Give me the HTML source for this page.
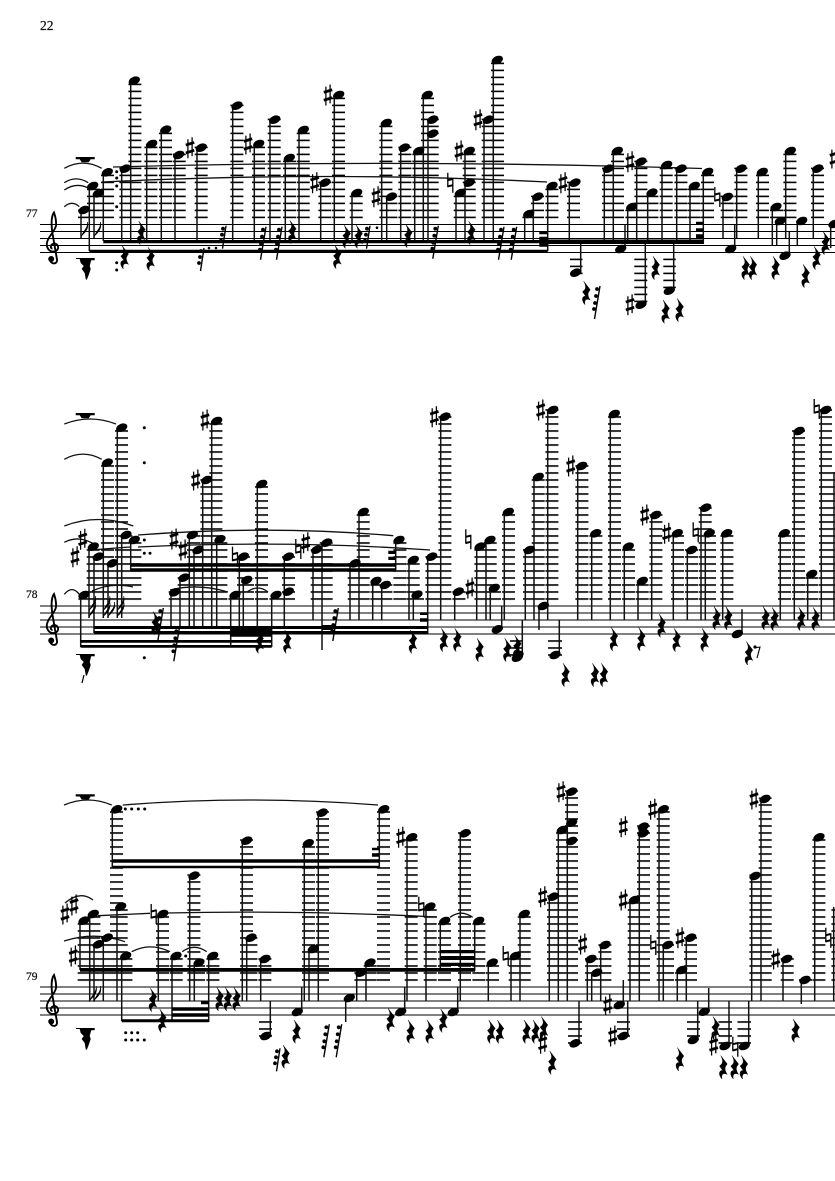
<!DOCTYPE html>
<html><head><meta charset="utf-8"><style>html,body{margin:0;padding:0;background:#fff}svg{display:block}text{font-family:"Liberation Serif",serif;fill:#111;stroke:#111;stroke-width:.25}</style></head><body>
<svg width="835" height="1181" viewBox="0 0 835 1181" xmlns="http://www.w3.org/2000/svg">
<defs>
<pattern id="A" patternUnits="userSpaceOnUse" x="0" y="223.6" width="835" height="7"><rect width="835" height="1.6"/></pattern>
<pattern id="B" patternUnits="userSpaceOnUse" x="0" y="605.2" width="835" height="7"><rect width="835" height="1.6"/></pattern>
<pattern id="C" patternUnits="userSpaceOnUse" x="0" y="986.2" width="835" height="7"><rect width="835" height="1.6"/></pattern>
<ellipse id="n" rx="5.9" ry="3.9" transform="rotate(-24)"/>
<path id="r" transform="scale(1.3)" stroke="#000" stroke-width=".3" d="M-1.5-9L3.5-2.5C1.5 0 1 1.5 3.5 5.5C1 4-1.5 5-.5 9C-3.5 6-3 2 0 2.5L-2.5-1C.5-3 .5-5-1.5-9z"/>
<g id="s" transform="scale(1.05)"><path d="M-2-8V10M2-10V8" stroke="#000" stroke-width="1.2"/><path d="M-4-2.5L4-5M-4 5L4 2.5" stroke="#000" stroke-width="2.7"/></g>
<g id="h" fill="none" stroke="#000"><path d="M-2.5-10V4.5M2.5-4.5V10" stroke-width="1.3"/><path d="M-2.5-2.5L2.5-3.7M-2.5 3.7L2.5 2.5" stroke-width="2"/></g>
<g id="t"><path d="M0 0L-5.5 33" stroke="#000" stroke-width="1.4"/><circle cx="-3" cy="3" r="1.9"/><circle cx="-4" cy="10" r="1.9"/><circle cx="-5" cy="17" r="1.9"/><circle cx="-6" cy="23" r="1.9"/></g>
<g id="u"><path d="M0 0L-3.5 23" stroke="#000" stroke-width="1.4"/><circle cx="-3" cy="3" r="1.9"/><circle cx="-4" cy="9" r="1.9"/><circle cx="-5" cy="15" r="1.9"/></g>
<path id="f" stroke="#000" stroke-width=".5" d="M0 0C1-7 7-9 6.5-16C8-10 5-6 .5-2z"/>
<path id="w" d="M0 0h19v2.2h-4l-2 3h-7l-2-3h-4z"/>
<path id="v" d="M0 0h19v2.2h-3.5L14 8l1 3-2 6-2 5-1-1-1-6-3-4 2-3-3-3-1-4h-3.5z"/>
<g id="c" fill="none" stroke="#000"><path d="M-1.5 3C-4 3-4-1 0-2C5-2 6 5 0 6C-5 6.5-8 2-7-3C-6-9 1-14 2-20C2.5-26 1-30 0-33C-3-29-3-22-1.5-12L3 14C3.5 19-2 19-4 15" stroke-width="1.9"/><circle cx="-2.8" cy="13.5" r="2.5" fill="#000"/></g>
</defs>
<rect width="835" height="1181" fill="#fff"/>
<text x="40" y="30" font-size="13.5">22</text>
<text x="26" y="217" font-size="11.5">77</text>
<text x="26" y="598" font-size="11.5">78</text>
<text x="26" y="980" font-size="11.5">79</text>
<path stroke="#000" stroke-width="1" d="M40 224.5H835M40 231.5H835M40 238.5H835M40 245.5H835M40 252.5H835"/>
<path stroke="#000" stroke-width="1" d="M40 606H835M40 613H835M40 620H835M40 627H835M40 634H835"/>
<path stroke="#000" stroke-width="1" d="M40 987H835M40 994H835M40 1001H835M40 1008H835M40 1015H835"/>
<use href="#c" x="54" y="245.5"/><use href="#c" x="54" y="627"/><use href="#c" x="54" y="1008"/>
<path fill="url(#A)" d="M78 208h12.5V220h-12.5zM87 184.5h13V220h-13zM91.7 191.8h13V220h-13zM101 170.8h13V220h-13zM119.4 167.2h13V220h-13zM128.4 79.2h13V220h-13zM144.4 142.5h13V220h-13zM159 128.2h13V220h-13zM172.7 153.5h13V220h-13zM194.7 146.2h13V220h-13zM230.4 104.2h13V220h-13zM252 142.5h13V220h-13zM267.7 118.2h13V220h-13zM283 156.5h13V220h-13zM296.7 128.5h13V220h-13zM318.4 181.2h13V220h-13zM332 93.5h13V220h-13zM349.7 191.5h13V220h-13zM379.4 121.5h13V220h-13zM384.4 195.2h13V220h-13zM398.4 146.2h13V220h-13zM412.4 149.5h13V220h-13zM421 93.5h13V220h-13zM425.7 118.2h13V220h-13zM453.7 191.5h13V220h-13zM462.7 149.5h13V220h-13zM481.7 118.2h13V220h-13zM491 58.5h13V220h-13zM522.4 212.5h13V220h-13zM531 195.2h13V220h-13zM545.4 184.5h13V220h-13zM567 181.2h13V220h-13zM602 167.2h13V220h-13zM611 149.5h13V220h-13zM625.4 205.5h13V220h-13zM634.4 160.2h13V220h-13zM645.4 191.2h13V220h-13zM659.7 163.5h13V220h-13zM674.4 167.2h13V220h-13zM687.7 184.5h13V220h-13zM701 170.5h13V220h-13zM720.7 195.5h13V220h-13zM734.4 167.2h13V220h-13zM756 170.5h13V220h-13zM770 205.5h13V220h-13zM783.4 149.5h13V220h-13zM811 167.2h13V220h-13zM570 257h12.5V275h-12.5zM634.3 257h13V304h-13zM663.3 257h12.5V290h-12.5z"/>
<path fill="url(#B)" d="M78.4 593.5h13V602h-13zM86.7 545.2h13V602h-13zM91.7 555.2h13V602h-13zM101 461.2h13V602h-13zM105.7 561.8h13V602h-13zM115 426.2h13V602h-13zM119.4 533.5h13V602h-13zM128.4 538.5h13V602h-13zM168.7 590.8h13V602h-13zM177.7 576.2h13V602h-13zM187 533.5h13V602h-13zM191.7 548.5h13V602h-13zM200.4 478.5h13V602h-13zM209.4 419.5h13V602h-13zM255 482.5h13V602h-13zM214.4 537.8h13V602h-13zM228.4 593.5h13V602h-13zM237 555.2h13V602h-13zM241 578.5h13V602h-13zM269.4 593.5h13V602h-13zM282 555.2h13V602h-13zM310.7 548.2h13V602h-13zM319.7 541.2h13V602h-13zM347.7 561.8h13V602h-13zM356.7 510.5h13V602h-13zM370.4 579.5h13V602h-13zM379.4 583.5h13V602h-13zM393.4 538.5h13V602h-13zM406.7 558.5h13V602h-13zM411 593.2h13V602h-13zM425.4 555.2h13V602h-13zM438.4 415.2h13V602h-13zM452.4 590.2h13V602h-13zM474.4 545.2h13V602h-13zM483.7 538.5h13V602h-13zM488 586.5h13V602h-13zM502 510.5h13V602h-13zM523 548.5h13V602h-13zM531.7 475.5h13V602h-13zM545.4 408.5h13V602h-13zM575.4 464.5h13V602h-13zM589.4 531.8h13V602h-13zM608 412.5h13V602h-13zM622 545.2h13V602h-13zM635.7 579.5h13V602h-13zM649.4 513.5h13V602h-13zM671 531.8h13V602h-13zM685 548.5h13V602h-13zM698.7 506.2h13V602h-13zM703 531.8h13V602h-13zM720.4 531.8h13V602h-13zM778 531.8h13V602h-13zM792 429.5h13V602h-13zM805.4 572.5h13V602h-13zM819 408.5h13V602h-13zM832 470h13V602h-13zM510 639h13V657h-13zM548 639h14V657h-14z"/>
<path fill="url(#C)" d="M77.7 919.2h13V983h-13zM87.4 912.5h13V983h-13zM91.7 942.8h13V983h-13zM101 936.2h13V983h-13zM110 807.8h13V983h-13zM114.7 905.2h13V983h-13zM119.4 954.5h13V983h-13zM156 912.5h13V983h-13zM169.7 954.5h13V983h-13zM187.4 874.2h13V983h-13zM192 961.2h13V983h-13zM206.4 954.5h13V983h-13zM240 839.2h13V983h-13zM244.4 936.2h13V983h-13zM258.4 957.5h13V983h-13zM302 841.8h13V983h-13zM306.7 947.5h13V983h-13zM316 811.2h13V983h-13zM354.4 971.2h13V983h-13zM363.7 961.2h13V983h-13zM377 807.8h13V983h-13zM404.7 835.8h13V983h-13zM423.7 905.2h13V983h-13zM438 919.5h13V983h-13zM458 831.8h13V983h-13zM472.4 919.5h13V983h-13zM486 961.2h13V983h-13zM508.7 954.5h13V983h-13zM517.7 912.5h13V983h-13zM547 895.2h13V983h-13zM556 828.5h13V983h-13zM565 790.2h13V983h-13zM585 957.5h13V983h-13zM589.4 971.2h13V983h-13zM598.4 943.5h13V983h-13zM627.7 898.5h13V983h-13zM637 825.2h13V983h-13zM656.7 807.8h13V983h-13zM661 943.5h13V983h-13zM675 968.5h13V983h-13zM684 936.2h13V983h-13zM749.4 874.5h13V983h-13zM758.7 797.5h13V983h-13zM780.7 957.5h13V983h-13zM799 978.5h13V983h-13zM812.4 835.8h13V983h-13zM831.4 905h13V983h-13zM259 1020h13V1038h-13zM568 1020h14V1045h-14zM617 1020h13V1038h-13zM687 1020h13V1038h-13zM718.5 1020h13.5V1045h-13.5zM737.5 1020h13.5V1045h-13.5z"/>
<path fill="none" stroke="#111" stroke-width="1.5" d="M81 210V238M89.3 186V251M94 193V238M103.3 172V241M121.7 169V241M130.7 81V241M146.7 144V241M161.3 130V241M175 155V241M197 148V241M232.7 106V241M254.3 144V241M270 120V241M285.3 158V241M299 130V241M320.7 183V241M334.3 95V241M352 193V241M381.7 123V241M386.7 197V241M400.7 148V241M414.7 151V241M423.3 95V241M428 120V241M456 193V241M465 151V241M484 120V241M493.3 60V241M524.7 214V241M533.3 197V241M547.7 186V251M569.3 183V241M580.7 273V241M604.3 169V241M613.3 151V241M625 249V224M627.7 207V241M636.7 162V241M645.3 305V241M647.7 193V241M662 165V241M673.7 291V241M676.7 169V241M690 186V241M703.3 172V244M723 197V238M734.7 249V225M736.7 169V238M758.3 172V238M772.3 207V245M776.7 221V245M785.7 151V238M789.3 256V232M797.3 221V245M813.3 169V238M830.7 224V248"/>
<path fill="none" stroke="#111" stroke-width="1.5" d="M80.7 595V647M89 547V618M94 557V633M103.3 463V618M108 563V618M117.3 428V618M121.7 535V618M130.7 540V571M171 592V627M180 578V627M189.3 535V627M194 550V627M202.7 480V627M211.7 421V627M216.7 539V627M230.7 595V647M239.3 557V627M243.3 580V627M257.3 484V627M271.7 595V647M284.3 557V627M313 550V620M322 543V650M350 563V620M359 512V620M372.7 581V620M381.7 585V620M395.7 540V571M409 560V620M413.3 595V620M427.7 557V634M440.7 417V620M454.7 592V620M476.7 547V620M486 540V620M490.3 588V620M501.7 629V605.7M504.3 512V620M522.3 657V620M525.3 550V620M534 477V620M539 606V630M547.7 410V620M559.3 655V620M577.7 466V620M591.7 533V620M610.3 414V620M624.3 547V620M638 581V620M651.7 515V620M673.3 533V620M687.3 550V620M701 508V620M705.3 533V620M722.7 533V620M742 634V609.3M780.3 533V620M794.3 431V620M807.7 574V620M821.3 410V620M834 472V620"/>
<path fill="none" stroke="#111" stroke-width="1.5" d="M80 921V970M89.7 914V1001M94 944V1001M103.3 938V1001M112.3 809V868M117 907V1001M121.7 956V1021M158.3 914V1001M172 956V1021M189.7 876V1001M194.3 963V1001M208.7 956V1022M242.3 841V1001M246.7 938V1001M260.7 959V1001M270.3 1036V1001M301.7 1012V987M304.3 843V1001M309 949V1001M318.3 813V1001M345.7 998V1022M356.7 973V1001M366 963V1001M379.3 809V868M404.7 1012V987M407 837V1001M426 907V1001M440.3 921V971M457.7 1012V987M460.3 833V1001M474.7 921V971M488.3 963V1001M511 956V1001M520 914V1001M549.3 897V1001M558.3 830V1001M567.3 792V1001M579 1043V1001M587.3 959V1001M591.7 973V1001M600.7 945V1001M623.3 1005V980M627.7 1036V1001M630 900V1001M639.3 827V1001M659 809V1001M663.3 945V1001M677.3 970V1001M686.3 938V1001M697.7 1040V1001M708.7 1012V988M729 1046V1001M748.7 1046V1001M751.7 876V1001M761 799V1001M783 959V1001M801.3 980V1004M814.7 837V1001M833.7 907V1001"/>
<path d="M89.3 249.7H547.7V252.5H89.3zM103.3 240H547.7V243.3H103.3zM547.7 239.5H703.3V244H547.7zM696 221.7h7.3v2.6h-7.3zM696 228.3h7.3v2.7h-7.3zM696 234.3h7.3v4h-7.3zM539.3 232h8.4v2.3h-8.4zM539.3 236.7h8.4v10h-8.4z"/>
<path d="M80.7 640H271.7V642.7H80.7zM80.7 645H271.7V647.7H80.7zM94 626H427.7V629H94zM94 631H427.7V634H94zM230 626h41.7v10.7H230zM130.7 563.3H395.7V566.7H130.7zM130.7 568.3H395.7V571.7H130.7zM388.3 550.7h7.4v3.3h-7.4zM388.3 556.7h7.4v3.3h-7.4zM420 612.3h7.7v2.7H420zM420 618.3h7.7v3.4H420zM322 625h11v5h-11z"/>
<path d="M80 968H475V971.7H80zM112.3 859.3H379.3V862.7H112.3zM112.3 865.7H379.3V868.3H112.3zM372 847.7h7.3v2.6H372zM372 853.3h7.3v3.4H372zM121.7 1019.3H208.7V1022.3H121.7zM172 1007.3h36.7v3.4H172zM172 1013.3h36.7v3.4H172zM201 1001h7.7v3.3H201zM440.3 950H475V953.3H440.3zM440.3 956H475V960H440.3zM440.3 962.7H475V966H440.3z"/>
<path fill="none" stroke="#111" stroke-width="1.3" d="M64.3 168.3Q83 158 101.7 168.3M64.3 182.7Q76 175 88.3 182.7M64.3 190Q76 182 88.3 188M64.3 206.7Q72 200 79.3 206.7M113 167Q400 159 702 168.5M102 182Q330 171 547 182M64.3 424Q90 414 116 424M64.3 459.3Q83 449 101.7 459.3M64.3 526Q98 513 133.3 526M64.3 542.3Q80 534 97 546M64.3 594.3Q72 585 79.3 594.3M138 535Q270 525 393.3 535.7M90 550L130 547M138 547Q290 540 430 550M92 591Q112 582 133 587M170 590Q198 583 228 592M247 592Q258 584 268 592M65 903Q80 890 93 900M64 941Q95 931 125 941.7M131.7 951.7Q150 942 170 951.7M182.3 951.7Q194 943 206.7 951.7M98 915.7L150 913.3M166 913Q300 910 437 917M450 917.3Q461 909 472.7 917.3M64 805Q88 795 111.7 805M122.7 805Q250 795 378 805"/>
<use href="#w" x="75.7" y="157"/><use href="#v" x="75.7" y="258"/>
<use href="#w" x="75.7" y="413"/><use href="#v" x="75.7" y="654"/><path d="M84 675L82 683" stroke="#000" stroke-width="1.2"/>
<use href="#w" x="75.7" y="794.3"/><use href="#v" x="75.7" y="1028"/>
<use href="#n" x="84" y="210"/><use href="#n" x="92.7" y="186"/><use href="#n" x="98.3" y="193.3"/><use href="#n" x="107.3" y="172.3"/><use href="#n" x="125.3" y="168.7"/><use href="#n" x="134.3" y="80.7"/><use href="#n" x="151.7" y="144"/><use href="#n" x="165.7" y="129.7"/><use href="#n" x="178.7" y="155"/><use href="#n" x="201.3" y="147.7"/><use href="#n" x="237" y="105.7"/><use href="#n" x="258.7" y="144"/><use href="#n" x="274.7" y="119.7"/><use href="#n" x="289.3" y="158"/><use href="#n" x="303.3" y="130"/><use href="#n" x="325" y="182.7"/><use href="#n" x="338.7" y="95"/><use href="#n" x="356.7" y="193"/><use href="#n" x="386.3" y="123"/><use href="#n" x="391.3" y="196.7"/><use href="#n" x="404.3" y="147.7"/><use href="#n" x="418.7" y="151"/><use href="#n" x="427.3" y="95"/><use href="#n" x="432.7" y="119.7"/><use href="#n" x="432.7" y="133.7"/><use href="#n" x="460.3" y="193"/><use href="#n" x="469.3" y="182.7"/><use href="#n" x="469.3" y="151"/><use href="#n" x="488.3" y="119.7"/><use href="#n" x="497.3" y="60"/><use href="#n" x="528.7" y="214"/><use href="#n" x="537.7" y="196.7"/><use href="#n" x="552" y="186"/><use href="#n" x="575" y="182.7"/><use href="#n" x="575.7" y="272.7"/><use href="#n" x="608.3" y="168.7"/><use href="#n" x="617.3" y="151"/><use href="#n" x="620.7" y="249"/><use href="#n" x="631.7" y="207"/><use href="#n" x="641" y="161.7"/><use href="#n" x="652" y="192.7"/><use href="#n" x="666.7" y="165"/><use href="#n" x="681" y="168.7"/><use href="#n" x="694.3" y="186"/><use href="#n" x="707.7" y="172"/><use href="#n" x="641" y="304.7"/><use href="#n" x="669.3" y="290.7"/><use href="#n" x="727.3" y="197"/><use href="#n" x="730.7" y="249"/><use href="#n" x="741" y="168.7"/><use href="#n" x="762.3" y="172"/><use href="#n" x="776" y="207"/><use href="#n" x="780.3" y="221"/><use href="#n" x="790.3" y="151"/><use href="#n" x="785" y="255.7"/><use href="#n" x="801.7" y="221"/><use href="#n" x="817.7" y="168.7"/><use href="#n" x="834" y="224"/>
<use href="#s" x="190" y="147.7"/><use href="#s" x="248" y="144"/><use href="#s" x="314.7" y="182.7"/><use href="#s" x="328" y="95"/><use href="#s" x="376" y="196.7"/><use href="#s" x="459" y="151"/><use href="#h" x="450.3" y="182.7"/><use href="#s" x="478" y="119.7"/><use href="#s" x="563" y="182.7"/><use href="#s" x="630" y="161.7"/><use href="#s" x="630" y="304.7"/><use href="#h" x="717.3" y="197"/><use href="#s" x="834" y="158"/>
<use href="#f" x="81" y="238"/><use href="#f" x="94" y="238"/><use href="#f" x="89" y="618"/><use href="#f" x="89" y="612"/><use href="#f" x="103.3" y="618"/><use href="#f" x="108" y="618"/><use href="#f" x="103.3" y="612"/><use href="#f" x="117.3" y="618"/><use href="#f" x="117.3" y="612"/><use href="#f" x="89.7" y="1002"/><use href="#f" x="94" y="1002"/>
<use href="#r" x="140.7" y="232.7"/><use href="#r" x="124" y="257.3"/><use href="#r" x="150" y="259"/><use href="#r" x="291.7" y="232"/><use href="#r" x="346" y="236.7"/><use href="#r" x="358" y="236.7"/><use href="#r" x="336.7" y="257"/><use href="#r" x="407.7" y="236"/><use href="#r" x="470.7" y="233"/><use href="#r" x="585.7" y="293"/><use href="#r" x="655" y="268"/><use href="#r" x="665" y="311.7"/><use href="#r" x="679" y="310"/><use href="#r" x="745" y="268"/><use href="#r" x="752.3" y="268"/><use href="#r" x="775" y="268"/><use href="#r" x="805" y="276"/><use href="#r" x="816" y="258"/><use href="#r" x="825" y="243"/>
<use href="#u" x="226" y="225.7"/><use href="#u" x="204" y="248"/><use href="#t" x="266" y="226.7"/><use href="#t" x="282" y="226.7"/><use href="#u" x="370" y="225.7"/><use href="#t" x="438.3" y="225.7"/><use href="#t" x="504" y="226.7"/><use href="#t" x="516.7" y="226.7"/><use href="#t" x="600" y="286"/>
<g><circle cx="116.7" cy="171.7" r="1.5"/><circle cx="116.7" cy="178" r="1.5"/><circle cx="116.7" cy="186" r="1.5"/><circle cx="116.7" cy="206.7" r="1.5"/><circle cx="116.7" cy="262.7" r="1.5"/><circle cx="116.7" cy="270" r="1.5"/><circle cx="209" cy="248" r="1.3"/><circle cx="216" cy="248" r="1.3"/><circle cx="377" cy="227.7" r="1.3"/></g>
<use href="#n" x="84" y="595"/><use href="#n" x="93.3" y="546.7"/><use href="#n" x="98.3" y="556.7"/><use href="#n" x="107.3" y="462.7"/><use href="#n" x="112.3" y="563.3"/><use href="#n" x="121.7" y="427.7"/><use href="#n" x="126" y="535"/><use href="#n" x="134.3" y="540"/><use href="#n" x="174.7" y="592.3"/><use href="#n" x="184" y="577.7"/><use href="#n" x="192.3" y="535"/><use href="#n" x="198" y="550"/><use href="#n" x="206.7" y="480"/><use href="#n" x="216.7" y="421"/><use href="#n" x="220" y="539.3"/><use href="#n" x="235" y="595"/><use href="#n" x="243.3" y="556.7"/><use href="#n" x="246.7" y="580"/><use href="#n" x="261.7" y="484"/><use href="#n" x="276" y="595"/><use href="#n" x="288.3" y="556.7"/><use href="#n" x="288.3" y="591.7"/><use href="#n" x="316.7" y="549.7"/><use href="#n" x="326.7" y="542.7"/><use href="#n" x="355" y="563.3"/><use href="#n" x="363.3" y="512"/><use href="#n" x="376" y="581"/><use href="#n" x="385.3" y="585"/><use href="#n" x="399" y="540"/><use href="#n" x="413.3" y="560"/><use href="#n" x="417" y="594.7"/><use href="#n" x="431.7" y="556.7"/><use href="#n" x="445" y="416.7"/><use href="#n" x="458.3" y="591.7"/><use href="#n" x="480" y="546.7"/><use href="#n" x="490" y="540"/><use href="#n" x="494.3" y="588"/><use href="#n" x="497.3" y="629.3"/><use href="#n" x="508.3" y="512"/><use href="#n" x="517.3" y="657.7"/><use href="#n" x="518" y="655"/><use href="#n" x="529.3" y="550"/><use href="#n" x="538.3" y="477"/><use href="#n" x="543.3" y="606"/><use href="#n" x="552.7" y="410"/><use href="#n" x="555" y="655"/><use href="#n" x="581.7" y="466"/><use href="#n" x="595.7" y="533.3"/><use href="#n" x="614.3" y="414"/><use href="#n" x="628.3" y="546.7"/><use href="#n" x="642.3" y="581"/><use href="#n" x="655.7" y="515"/><use href="#n" x="677.3" y="533.3"/><use href="#n" x="691.7" y="550"/><use href="#n" x="705.7" y="507.7"/><use href="#n" x="709.3" y="533.3"/><use href="#n" x="726.7" y="533.3"/><use href="#n" x="737.3" y="634"/><use href="#n" x="784.3" y="533.3"/><use href="#n" x="799" y="431"/><use href="#n" x="811.7" y="574"/><use href="#n" x="825.7" y="410"/>
<use href="#s" x="82.7" y="539.3"/><use href="#s" x="75" y="556.7"/><use href="#s" x="195.7" y="480"/><use href="#s" x="205" y="420"/><use href="#s" x="174" y="539"/><use href="#s" x="183" y="550"/><use href="#h" x="235" y="556.7"/><use href="#h" x="298.3" y="549"/><use href="#s" x="305.7" y="542.7"/><use href="#s" x="434.3" y="416.7"/><use href="#s" x="470" y="588"/><use href="#h" x="468.3" y="539.3"/><use href="#s" x="540.7" y="410"/><use href="#s" x="570.7" y="466"/><use href="#s" x="644.7" y="515"/><use href="#s" x="666.7" y="533.3"/><use href="#h" x="695.7" y="532.3"/><use href="#h" x="816.7" y="409"/>
<use href="#r" x="155" y="623.3"/><use href="#r" x="259" y="641.7"/><use href="#r" x="286.7" y="641.7"/><use href="#r" x="412.3" y="641.7"/><use href="#r" x="443.3" y="640"/><use href="#r" x="456.7" y="640"/><use href="#r" x="479" y="650"/><use href="#r" x="506.7" y="650"/><use href="#r" x="516.7" y="647"/><use href="#r" x="565" y="675"/><use href="#r" x="594.3" y="675"/><use href="#r" x="603.3" y="675"/><use href="#r" x="613.3" y="639.3"/><use href="#r" x="640.7" y="639.3"/><use href="#r" x="661" y="625.7"/><use href="#r" x="676" y="640"/><use href="#r" x="704" y="640"/><use href="#r" x="716" y="618.3"/><use href="#r" x="727.7" y="618.3"/><use href="#r" x="748.3" y="653.3"/><use href="#r" x="765" y="618.3"/><use href="#r" x="774" y="619"/><use href="#r" x="800.7" y="619"/><use href="#r" x="815" y="619"/>
<path d="M754 648L760 647L757 658" fill="none" stroke="#000" stroke-width="1.1"/><circle cx="755" cy="647" r="1.6"/>
<use href="#t" x="163.3" y="608"/><use href="#t" x="179.3" y="628.3"/><use href="#t" x="338.3" y="608"/>
<g><circle cx="144.3" cy="427.7" r="1.5"/><circle cx="144.3" cy="462.7" r="1.5"/><circle cx="144.3" cy="540" r="1.5"/><circle cx="144.3" cy="553.3" r="1.5"/><circle cx="150" cy="553.3" r="1.5"/><circle cx="144.3" cy="657.7" r="1.5"/></g>
<use href="#n" x="84" y="920.7"/><use href="#n" x="93.3" y="914"/><use href="#n" x="98.3" y="944.3"/><use href="#n" x="107.3" y="937.7"/><use href="#n" x="116.7" y="809.3"/><use href="#n" x="120.7" y="906.7"/><use href="#n" x="125.7" y="956"/><use href="#n" x="162.7" y="914"/><use href="#n" x="176" y="956"/><use href="#n" x="194" y="875.7"/><use href="#n" x="199" y="962.7"/><use href="#n" x="212.7" y="956"/><use href="#n" x="246.7" y="840.7"/><use href="#n" x="251" y="937.7"/><use href="#n" x="265" y="959"/><use href="#n" x="265.7" y="1036"/><use href="#n" x="297.3" y="1012"/><use href="#n" x="308.3" y="843.3"/><use href="#n" x="313.3" y="949"/><use href="#n" x="322.3" y="812.7"/><use href="#n" x="349.3" y="998"/><use href="#n" x="361" y="972.7"/><use href="#n" x="370" y="962.7"/><use href="#n" x="383.7" y="809.3"/><use href="#n" x="400.7" y="1012"/><use href="#n" x="411.7" y="837.3"/><use href="#n" x="430" y="906.7"/><use href="#n" x="444.7" y="921"/><use href="#n" x="453.3" y="1012"/><use href="#n" x="465" y="833.3"/><use href="#n" x="478.7" y="921"/><use href="#n" x="492.3" y="962.7"/><use href="#n" x="515.3" y="956"/><use href="#n" x="524.3" y="914"/><use href="#n" x="553.3" y="896.7"/><use href="#n" x="562.3" y="830"/><use href="#n" x="571.7" y="791.7"/><use href="#n" x="571.7" y="822.7"/><use href="#n" x="571.7" y="841"/><use href="#n" x="575" y="1043.3"/><use href="#n" x="591" y="959"/><use href="#n" x="596.7" y="972.7"/><use href="#n" x="605" y="945"/><use href="#n" x="619.3" y="1005"/><use href="#n" x="623.3" y="1036"/><use href="#n" x="634.3" y="900"/><use href="#n" x="643.3" y="826.7"/><use href="#n" x="643.3" y="833.3"/><use href="#n" x="663.3" y="809.3"/><use href="#n" x="667.7" y="945"/><use href="#n" x="681.7" y="970"/><use href="#n" x="690.7" y="937.7"/><use href="#n" x="693.3" y="1040"/><use href="#n" x="704.3" y="1011.7"/><use href="#n" x="725" y="1046"/><use href="#n" x="744.3" y="1046"/><use href="#n" x="755" y="876"/><use href="#n" x="765" y="799"/><use href="#n" x="786.7" y="959"/><use href="#n" x="805" y="980"/><use href="#n" x="819" y="837.3"/>
<use href="#s" x="65" y="914"/><use href="#s" x="74" y="905"/><use href="#s" x="73.3" y="956"/><use href="#h" x="153.7" y="914"/><use href="#s" x="400.7" y="837.3"/><use href="#h" x="421.3" y="906.7"/><use href="#h" x="505.7" y="956"/><use href="#s" x="542.7" y="896.7"/><use href="#s" x="542.7" y="1043.3"/><use href="#s" x="561" y="791.7"/><use href="#s" x="582.7" y="944"/><use href="#s" x="607.7" y="1005"/><use href="#s" x="612.7" y="1036"/><use href="#s" x="623.3" y="900"/><use href="#s" x="623.3" y="826.7"/><use href="#s" x="652.7" y="809.3"/><use href="#h" x="653.3" y="945"/><use href="#s" x="680" y="937.7"/><use href="#s" x="713.7" y="1045"/><use href="#h" x="735.3" y="1046.7"/><use href="#s" x="754" y="799"/><use href="#s" x="775.7" y="959"/><use href="#h" x="828.3" y="937.7"/>
<use href="#r" x="152.3" y="1000"/><use href="#r" x="161.7" y="1020.7"/><use href="#r" x="219" y="999.3"/><use href="#r" x="227.3" y="999.3"/><use href="#r" x="236" y="999.3"/><use href="#r" x="285" y="1056.7"/><use href="#r" x="296" y="1031.7"/><use href="#r" x="390" y="1020"/><use href="#r" x="410" y="1031.7"/><use href="#r" x="429" y="1031.7"/><use href="#r" x="442.7" y="1020.7"/><use href="#r" x="490.7" y="1031.7"/><use href="#r" x="499.3" y="1031.7"/><use href="#r" x="526" y="1031.7"/><use href="#r" x="535" y="1031.7"/><use href="#r" x="543.3" y="1028.3"/><use href="#r" x="551.7" y="1062.7"/><use href="#r" x="679.3" y="1059.3"/><use href="#r" x="715" y="1028.3"/><use href="#r" x="722.7" y="1067.3"/><use href="#r" x="734" y="1067.3"/><use href="#r" x="743.3" y="1067.3"/><use href="#r" x="795" y="1030.7"/>
<use href="#u" x="280" y="1048.3"/><use href="#t" x="329.3" y="1024.3"/><use href="#t" x="341.7" y="1024.3"/>
<g><circle cx="125.7" cy="1032.7" r="1.5"/><circle cx="131.7" cy="1032.7" r="1.5"/><circle cx="137.7" cy="1032.7" r="1.5"/><circle cx="125.7" cy="1040" r="1.5"/><circle cx="131.7" cy="1040" r="1.5"/><circle cx="137.7" cy="1040" r="1.5"/><circle cx="144.3" cy="1040" r="1.5"/><circle cx="185.7" cy="956" r="1.5"/><circle cx="125.3" cy="809" r="1.5"/><circle cx="131.7" cy="809" r="1.5"/><circle cx="138.3" cy="809" r="1.5"/><circle cx="144.7" cy="809" r="1.5"/></g>
</svg>
</body></html>
